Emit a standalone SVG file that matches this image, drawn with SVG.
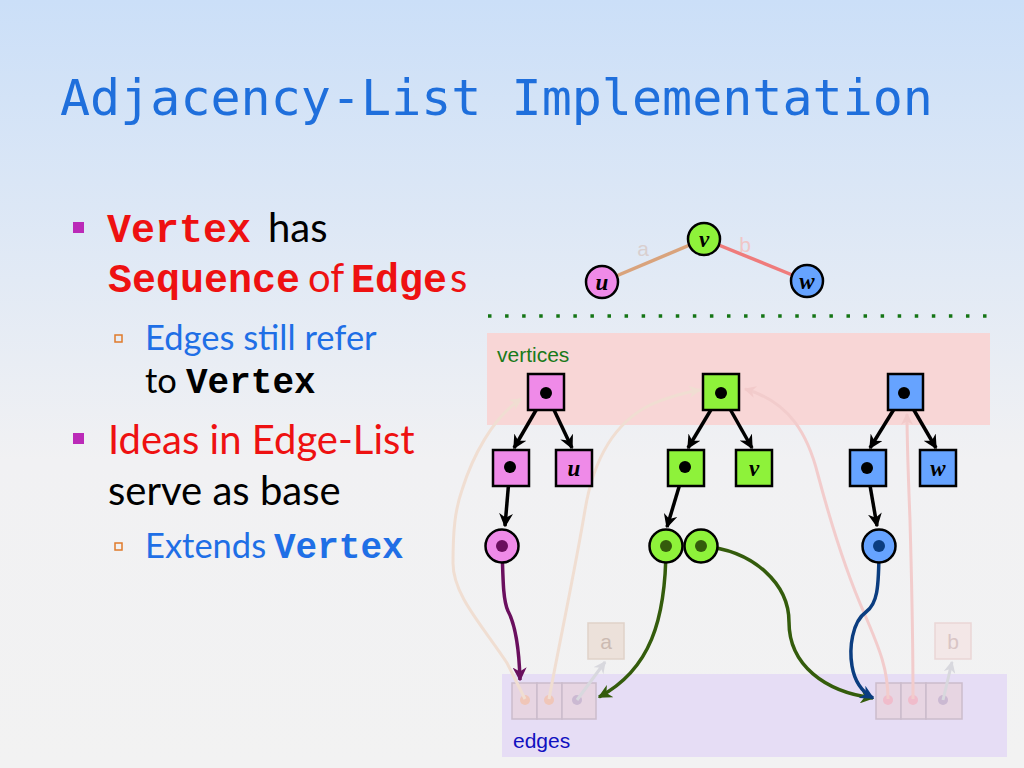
<svg xmlns="http://www.w3.org/2000/svg" width="1024" height="768" viewBox="0 0 1024 768">
<defs>
<linearGradient id="bg" x1="0" y1="0" x2="0" y2="1">
<stop offset="0" stop-color="#cbdff8"/>
<stop offset="0.6" stop-color="#f1f1f3"/>
<stop offset="1" stop-color="#f2f2f2"/>
</linearGradient>
<marker id="ahBlack" viewBox="0 0 10 10" refX="9" refY="5" markerWidth="4" markerHeight="4" markerUnits="strokeWidth" orient="auto"><path d="M0,0 L10,5 L0,10 L3,5 z" fill="#000"/></marker>
<marker id="ahPurple" viewBox="0 0 10 10" refX="9" refY="5" markerWidth="4" markerHeight="4" markerUnits="strokeWidth" orient="auto"><path d="M0,0 L10,5 L0,10 L3,5 z" fill="#6a0f5e"/></marker>
<marker id="ahGreen" viewBox="0 0 10 10" refX="9" refY="5" markerWidth="4" markerHeight="4" markerUnits="strokeWidth" orient="auto"><path d="M0,0 L10,5 L0,10 L3,5 z" fill="#345c0c"/></marker>
<marker id="ahBlue" viewBox="0 0 10 10" refX="9" refY="5" markerWidth="4" markerHeight="4" markerUnits="strokeWidth" orient="auto"><path d="M0,0 L10,5 L0,10 L3,5 z" fill="#0b3d80"/></marker>
<marker id="ahTan" viewBox="0 0 10 10" refX="9" refY="5" markerWidth="4" markerHeight="4" markerUnits="strokeWidth" orient="auto"><path d="M0,0 L10,5 L0,10 L3,5 z" fill="#f0ded2"/></marker>
<marker id="ahPink" viewBox="0 0 10 10" refX="9" refY="5" markerWidth="4" markerHeight="4" markerUnits="strokeWidth" orient="auto"><path d="M0,0 L10,5 L0,10 L3,5 z" fill="#f2caca"/></marker>
<marker id="ahGrey" viewBox="0 0 10 10" refX="9" refY="5" markerWidth="4" markerHeight="4" markerUnits="strokeWidth" orient="auto"><path d="M0,0 L10,5 L0,10 L3,5 z" fill="#d8d8de"/></marker>
<style>
.title{font-family:"DejaVu Sans Mono",monospace;font-size:50px;fill:#1f6fdc}
.sans{font-family:Lato,"Open Sans",sans-serif}
.mono{font-family:"Liberation Mono","Courier New",monospace;font-weight:bold}
.b1{font-size:40px}
.b2{font-size:34.5px}
.m1{font-size:40px}
.m2{font-size:36px}
.red{fill:#ee1111}
.blk{fill:#000}
.blue{fill:#1f6fe6}
.mag{fill:#bb2ab8}
.sub{fill:none;stroke:#e07a2a;stroke-width:1.5}
.lbl{font-family:"Liberation Sans",Arial,sans-serif;font-size:21px}
.nl{font-family:"Liberation Serif","Times New Roman",serif;font-weight:bold;font-style:italic;font-size:23px;fill:#000;text-anchor:middle}
.nd{stroke:#000;stroke-width:2.5}
.pk{fill:#ef8ae8}
.gr{fill:#8ef23a}
.bl{fill:#66a3ff}
.blk-arrow{fill:none;stroke:#000;stroke-width:3.5;marker-end:url(#ahBlack)}
.cell{fill:#e7d5e2;stroke:#cbbccb;stroke-width:1.5}
.faint-tan{fill:none;stroke:#f0ded2;stroke-width:3;marker-end:url(#ahTan)}
.faint-pink{fill:none;stroke:#f2cccc;stroke-width:3;marker-end:url(#ahPink)}
.faint-grey{fill:none;stroke:#d8d8de;stroke-width:3;marker-end:url(#ahGrey)}
</style>
</defs>
<rect width="1024" height="768" fill="url(#bg)"/>

<text x="60" y="115" class="title">Adjacency-List Implementation</text>

<g id="bullets">
<rect x="73" y="222" width="11" height="11" class="mag"/>
<text x="107" y="242" class="mono m1 red">Vertex</text>
<text x="268" y="242" class="sans b1 blk">has</text>
<text x="108" y="292" class="mono m1 red">Sequence</text>
<text x="308" y="292" class="sans b1 red">of</text>
<text x="351" y="292" class="mono m1 red">Edge</text>
<text x="450" y="292" class="sans b1 red">s</text>
<rect x="115" y="335" width="7" height="7" class="sub"/>
<text x="145" y="350" class="sans b2 blue">Edges still refer</text>
<text x="145" y="393" class="sans b2 blk">to</text>
<text x="186" y="393" class="mono m2 blk">Vertex</text>
<rect x="73" y="433" width="11" height="11" class="mag"/>
<text x="108" y="454" class="sans b1 red">Ideas in Edge-List</text>
<text x="108" y="505" class="sans b1 blk">serve as base</text>
<rect x="115" y="543" width="7" height="7" class="sub"/>
<text x="145" y="558" class="sans b2 blue">Extends</text>
<text x="274" y="558" class="mono m2 blue">Vertex</text>
</g>

<g id="graph-edges">
<line x1="602" y1="282" x2="704" y2="239" stroke="#d9a37c" stroke-width="3.5"/>
<line x1="704" y1="239" x2="807" y2="281" stroke="#ef7b7b" stroke-width="3.5"/>
<text x="643" y="256" class="lbl" fill="#d9cfcf" text-anchor="middle">a</text>
<text x="745" y="252" class="lbl" fill="#f0c6c6" text-anchor="middle">b</text>
</g>
<g id="graph-u"><circle cx="602" cy="282" r="16" class="pk nd"/><text x="602" y="290" class="nl">u</text></g>
<g id="graph-v"><circle cx="704" cy="239" r="16" class="gr nd"/><text x="704" y="247" class="nl">v</text></g>
<g id="graph-w"><circle cx="807" cy="281" r="16" class="bl nd"/><text x="807" y="289" class="nl">w</text></g>

<line x1="488" y1="316" x2="987" y2="316" stroke="#157515" stroke-width="3.5" stroke-dasharray="3.5 13.57"/>

<g id="vertices-area">
<rect x="487" y="333" width="503" height="92" fill="#f8d6d6"/>
<text x="497" y="362" class="lbl" fill="#1a7a1a">vertices</text>
</g>
<g id="edges-area">
<rect x="502" y="674" width="505" height="83" fill="#e6ddf5"/>
<text x="513" y="748" class="lbl" fill="#1010c0">edges</text>
</g>

<g id="edge-a">
<rect x="588" y="623" width="36" height="36" fill="#ece1da" stroke="#e0d2c9" stroke-width="1.5"/>
<text x="606" y="649" class="lbl" fill="#cbbab2" text-anchor="middle">a</text>
<rect x="512" y="683" width="25" height="36" class="cell"/>
<rect x="537" y="683" width="25" height="36" class="cell"/>
<rect x="562" y="683" width="34" height="36" class="cell"/>
<circle cx="525" cy="700" r="5" fill="#f0c6b8"/>
<circle cx="549" cy="700" r="5" fill="#f0c6b8"/>
<circle cx="577" cy="700" r="5" fill="#cbb9d2"/>
</g>
<g id="edge-b">
<rect x="935" y="623" width="36" height="36" fill="#f3e7e7" stroke="#ead6d6" stroke-width="1.5"/>
<text x="953" y="649" class="lbl" fill="#d9c5c5" text-anchor="middle">b</text>
<rect x="876" y="683" width="25" height="36" class="cell"/>
<rect x="901" y="683" width="25" height="36" class="cell"/>
<rect x="926" y="683" width="36" height="36" class="cell"/>
<circle cx="888" cy="700" r="5" fill="#f0bccb"/>
<circle cx="913" cy="700" r="5" fill="#f0bccb"/>
<circle cx="943" cy="700" r="5" fill="#cbb9d2"/>
</g>

<g id="connectors">
<path class="faint-tan" d="M525,699 L507,663 C482,625 453,595 453,563 C453,530 455,510 462,490 C472,458 492,418 521,399"/>
<path class="faint-tan" d="M549,699 C560,640 575,570 585,510 C595,450 620,420 650,405 C670,396 688,392 700,390"/>
<path class="faint-pink" d="M888,699 C888,670 880,650 865,615 C845,570 830,520 818,475 C808,435 790,402 745,389"/>
<path class="faint-pink" d="M913,699 C913,620 911,560 910,520 C908,470 907,440 907,414"/>
<path class="faint-grey" d="M577,700 L605,662"/>
<path class="faint-grey" d="M943,700 L952,662"/>

<path class="blk-arrow" d="M546,393 L514,448"/>
<path class="blk-arrow" d="M546,393 L572,448"/>
<path class="blk-arrow" d="M721,393 L688,448"/>
<path class="blk-arrow" d="M721,393 L752,448"/>
<path class="blk-arrow" d="M904,393 L870,448"/>
<path class="blk-arrow" d="M904,393 L936,448"/>
<path class="blk-arrow" d="M510,467 L505,526"/>
<path class="blk-arrow" d="M685,467 L667,527"/>
<path class="blk-arrow" d="M867,468 L877,526"/>

<path d="M502,546 C503,580 503,600 508,611 C515,624 519,645 520,680" fill="none" stroke="#6a0f5e" stroke-width="3.5" marker-end="url(#ahPurple)"/>
<path d="M666,546 C666,620 650,670 599,697" fill="none" stroke="#345c0c" stroke-width="3.5" marker-end="url(#ahGreen)"/>
<path d="M701,546 C755,550 789,585 789,622 C789,665 825,692 873,698" fill="none" stroke="#345c0c" stroke-width="3.5" marker-end="url(#ahGreen)"/>
<path d="M879,546 C879,590 877,604 866,612 C852,622 849,648 852,666 C855,684 864,693 873,698" fill="none" stroke="#0b3d80" stroke-width="3.5" marker-end="url(#ahBlue)"/>
</g>

<g id="vertex-u">
<rect x="528" y="374" width="36" height="36" class="pk nd"/>
<circle cx="546" cy="393" r="6" fill="#000"/>
</g>
<g id="vertex-v">
<rect x="703" y="374" width="36" height="36" class="gr nd"/>
<circle cx="721" cy="393" r="6" fill="#000"/>
</g>
<g id="vertex-w">
<rect x="888" y="374" width="35" height="36" class="bl nd"/>
<circle cx="904" cy="393" r="6" fill="#000"/>
</g>

<g id="u-seq"><rect x="493" y="450" width="36" height="36" class="pk nd"/><circle cx="510" cy="467" r="6" fill="#000"/></g>
<g id="u-elem"><rect x="556" y="450" width="36" height="36" class="pk nd"/><text x="574" y="476" class="nl">u</text></g>
<g id="v-seq"><rect x="668" y="450" width="36" height="36" class="gr nd"/><circle cx="685" cy="467" r="6" fill="#000"/></g>
<g id="v-elem"><rect x="736" y="450" width="36" height="36" class="gr nd"/><text x="754" y="476" class="nl">v</text></g>
<g id="w-seq"><rect x="850" y="450" width="36" height="36" class="bl nd"/><circle cx="867" cy="468" r="6" fill="#000"/></g>
<g id="w-elem"><rect x="920" y="450" width="36" height="36" class="bl nd"/><text x="938" y="476" class="nl">w</text></g>

<g id="u-inc"><circle cx="502" cy="546" r="16.5" class="pk nd"/><circle cx="502" cy="546" r="6" fill="#6a0f5e"/></g>
<g id="v-inc1"><circle cx="666" cy="546" r="16.5" class="gr nd"/><circle cx="666" cy="546" r="6" fill="#345c0c"/></g>
<g id="v-inc2"><circle cx="701" cy="546" r="16.5" class="gr nd"/><circle cx="701" cy="546" r="6" fill="#345c0c"/></g>
<g id="w-inc"><circle cx="879" cy="546" r="16.5" class="bl nd"/><circle cx="879" cy="546" r="6" fill="#0b3d80"/></g>
</svg>
